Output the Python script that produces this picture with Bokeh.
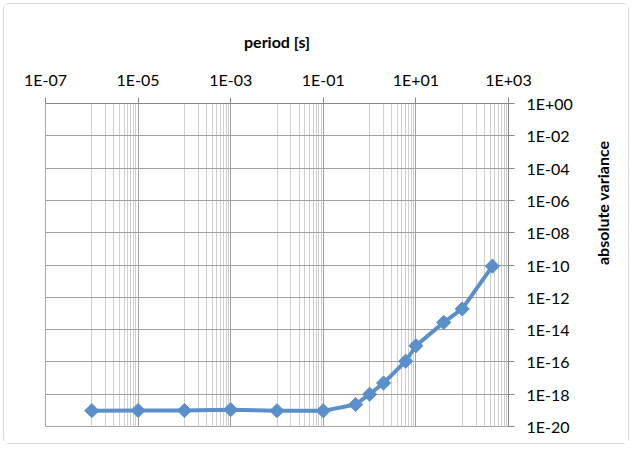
import math
from bokeh.plotting import figure
from bokeh.models import Range1d, FixedTicker, CustomJSTickFormatter
from bokeh.embed import file_html
from bokeh.resources import INLINE

# period [s] and absolute variance of the measured series
period = [1e-6, 1e-5, 1e-4, 1e-3, 1e-2, 1e-1, 0.5, 1, 2, 6, 10, 40, 100, 450]
variance = [9.6e-20, 9.8e-20, 9.8e-20, 1.1e-19, 9.5e-20, 9.3e-20, 2.3e-19,
            1.0e-18, 4.9e-18, 1.1e-16, 1.0e-15, 2.8e-14, 1.9e-13, 8.5e-11]

x_major = [10.0 ** e for e in range(-7, 4, 2)]
x_minor = [j * 10.0 ** e for e in range(-6, 3, 2) for j in range(1, 10)]
y_major = [10.0 ** e for e in range(-20, 1, 2)]

FONT = "Lato"
LINE_BLUE = "#5B8FC9"

p = figure(
    width=626, height=441,
    x_axis_type="log", y_axis_type="log",
    x_axis_location="above", y_axis_location="right",
    x_range=Range1d(1e-7, 1e3), y_range=Range1d(1e-20, 1),
    min_border_left=41, min_border_right=122,
    min_border_top=99, min_border_bottom=19,
    output_backend="svg", toolbar_location=None,
)
p.styles = {"margin": "3px", "border": "1px solid #d9d9d9", "border-radius": "6px"}
p.outline_line_color = "#a6a6a6"

fmt = CustomJSTickFormatter(code="""
const e = Math.round(Math.log10(tick));
const a = Math.abs(e);
return '1E' + (e < 0 ? '-' : '+') + (a < 10 ? '0' : '') + a;
""")

xa = p.xaxis[0]
xa.ticker = FixedTicker(ticks=x_major, minor_ticks=x_minor)
xa.formatter = fmt
xa.axis_label = "period [s]"

ya = p.yaxis[0]
ya.ticker = FixedTicker(ticks=y_major, minor_ticks=[])
ya.formatter = fmt
ya.axis_label = "absolute variance"
ya.axis_label_orientation = math.pi / 2

for ax in (xa, ya):
    ax.axis_line_color = "#868686"
    ax.major_tick_line_color = "#868686"
    ax.major_tick_out = 6
    ax.major_tick_in = 0
    ax.minor_tick_out = 0
    ax.minor_tick_in = 0
    ax.major_label_text_font = FONT
    ax.major_label_text_font_size = "16px"
    ax.major_label_text_color = "#000000"
    ax.axis_label_text_font = FONT
    ax.axis_label_text_font_size = "16px"
    ax.axis_label_text_font_style = "bold"
    ax.axis_label_text_color = "#000000"

xa.major_label_standoff = 9
xa.axis_label_standoff = 16
ya.major_label_standoff = 12
ya.axis_label_standoff = 27

p.xgrid.grid_line_color = "#a0a0a0"
p.xgrid.minor_grid_line_color = "#cfcfcf"
p.ygrid.grid_line_color = "#a0a0a0"
p.ygrid.minor_grid_line_color = None

p.line(period, variance, line_color=LINE_BLUE, line_width=4)
p.scatter(period, variance, marker="square", angle=0.785398, size=10,
          fill_color=LINE_BLUE, line_color=LINE_BLUE)

open("out.html", "w").write(file_html(p, INLINE))
